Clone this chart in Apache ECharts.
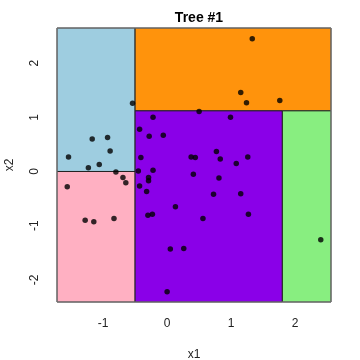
<!DOCTYPE html>
<html><head><meta charset="utf-8">
<script src="https://cdn.jsdelivr.net/npm/echarts@6/dist/echarts.min.js"></script>
<style>html,body{margin:0;padding:0;background:#fff}#c{width:360px;height:360px}</style>
</head><body><div id="c"></div>
<script>
const xTicks = [-1, 0, 1, 2];
const yTicks = [-2, -1, 0, 1, 2];
const xRange = [-1.72, 2.56];
const yRange = [-2.41, 2.65];
const x1 = [-0.54,0.50,-0.22,-0.43,-0.28,-0.06,-1.17,-0.93,-0.89,-1.54,-1.23,-1.06,-0.41,0.375,0.44,-0.80,-0.69,-0.645,-1.56,-0.45,-0.22,-0.29,-0.29,-0.43,-0.32,0.41,0.13,-0.30,-0.23,-1.28,-1.145,-0.83,0.05,0.26,0.0,0.77,0.83,1.08,1.26,0.81,0.725,1.15,1.27,0.56,2.40,1.33,1.15,1.24,1.76,0.99];
const x2 = [1.26,1.11,1.0,0.78,0.65,0.67,0.60,0.63,0.38,0.27,0.07,0.13,0.26,0.27,0.26,-0.01,-0.11,-0.21,-0.28,0.01,0.025,-0.11,-0.17,-0.27,-0.37,-0.05,-0.65,-0.81,-0.79,-0.90,-0.93,-0.87,-1.43,-1.42,-2.22,0.37,0.23,0.15,0.27,-0.12,-0.42,-0.41,-0.79,-0.87,-1.26,2.45,1.46,1.27,1.31,1.0];
// regions: [xmin, xmax, ymin, ymax, color]
const regions = [
  [-1.72, -0.5, 0, 2.65, '#9ecde0'],
  [-1.72, -0.5, -2.41, 0, '#ffb0c2'],
  [-0.5, 2.56, 1.12, 2.65, '#ff930c'],
  [-0.5, 1.8, -2.41, 1.12, '#8a00e8'],
  [1.8, 2.56, -2.41, 1.12, '#88ee80']
];
const pts = x1.map((v, i) => [v, x2[i]]);
const font = 'Liberation Sans, Arial, sans-serif';
const chart = echarts.init(document.getElementById('c'), null, {renderer: 'canvas'});
chart.setOption({
  animation: false,
  title: {text: 'Tree #1', left: 194, top: 6, textAlign: 'center',
    textStyle: {fontFamily: font, fontSize: 14, fontWeight: 'bold', color: '#000'}},
  grid: {left: 57, right: 29, top: 28, bottom: 58, outerBoundsMode: 'none', containLabel: false,
    show: true, borderColor: '#808080', borderWidth: 1, backgroundColor: 'transparent', z: 10},
  xAxis: {type: 'value', min: xRange[0], max: xRange[1], splitLine: {show: false},
    axisLine: {show: false},
    axisTick: {show: true, inside: false, length: 6, customValues: xTicks, lineStyle: {color: '#555'}},
    axisLabel: {customValues: xTicks, margin: 16, fontFamily: font, fontSize: 12, color: '#222'},
    name: 'x1', nameLocation: 'middle', nameGap: 47, nameTextStyle: {fontFamily: font, fontSize: 12, color: '#222'}},
  yAxis: {type: 'value', min: yRange[0], max: yRange[1], splitLine: {show: false},
    axisLine: {show: false},
    axisTick: {show: true, inside: false, length: 6, customValues: yTicks, lineStyle: {color: '#555'}},
    axisLabel: {customValues: yTicks, rotate: 90, margin: 16, fontFamily: font, fontSize: 12, color: '#222'},
    name: 'x2', nameLocation: 'middle', nameGap: 41, nameRotate: 90, nameTextStyle: {fontFamily: font, fontSize: 12, color: '#222'}},
  series: [{
    type: 'scatter', data: pts, symbolSize: 5.5, itemStyle: {color: '#000'}, z: 5,
    markArea: {silent: true,
      data: regions.map(r => [
        {coord: [r[0], r[3]], itemStyle: {color: r[4], borderColor: '#222', borderWidth: 1, opacity: 1}},
        {coord: [r[1], r[2]]}
      ])}
  }]
});
</script></body></html>
